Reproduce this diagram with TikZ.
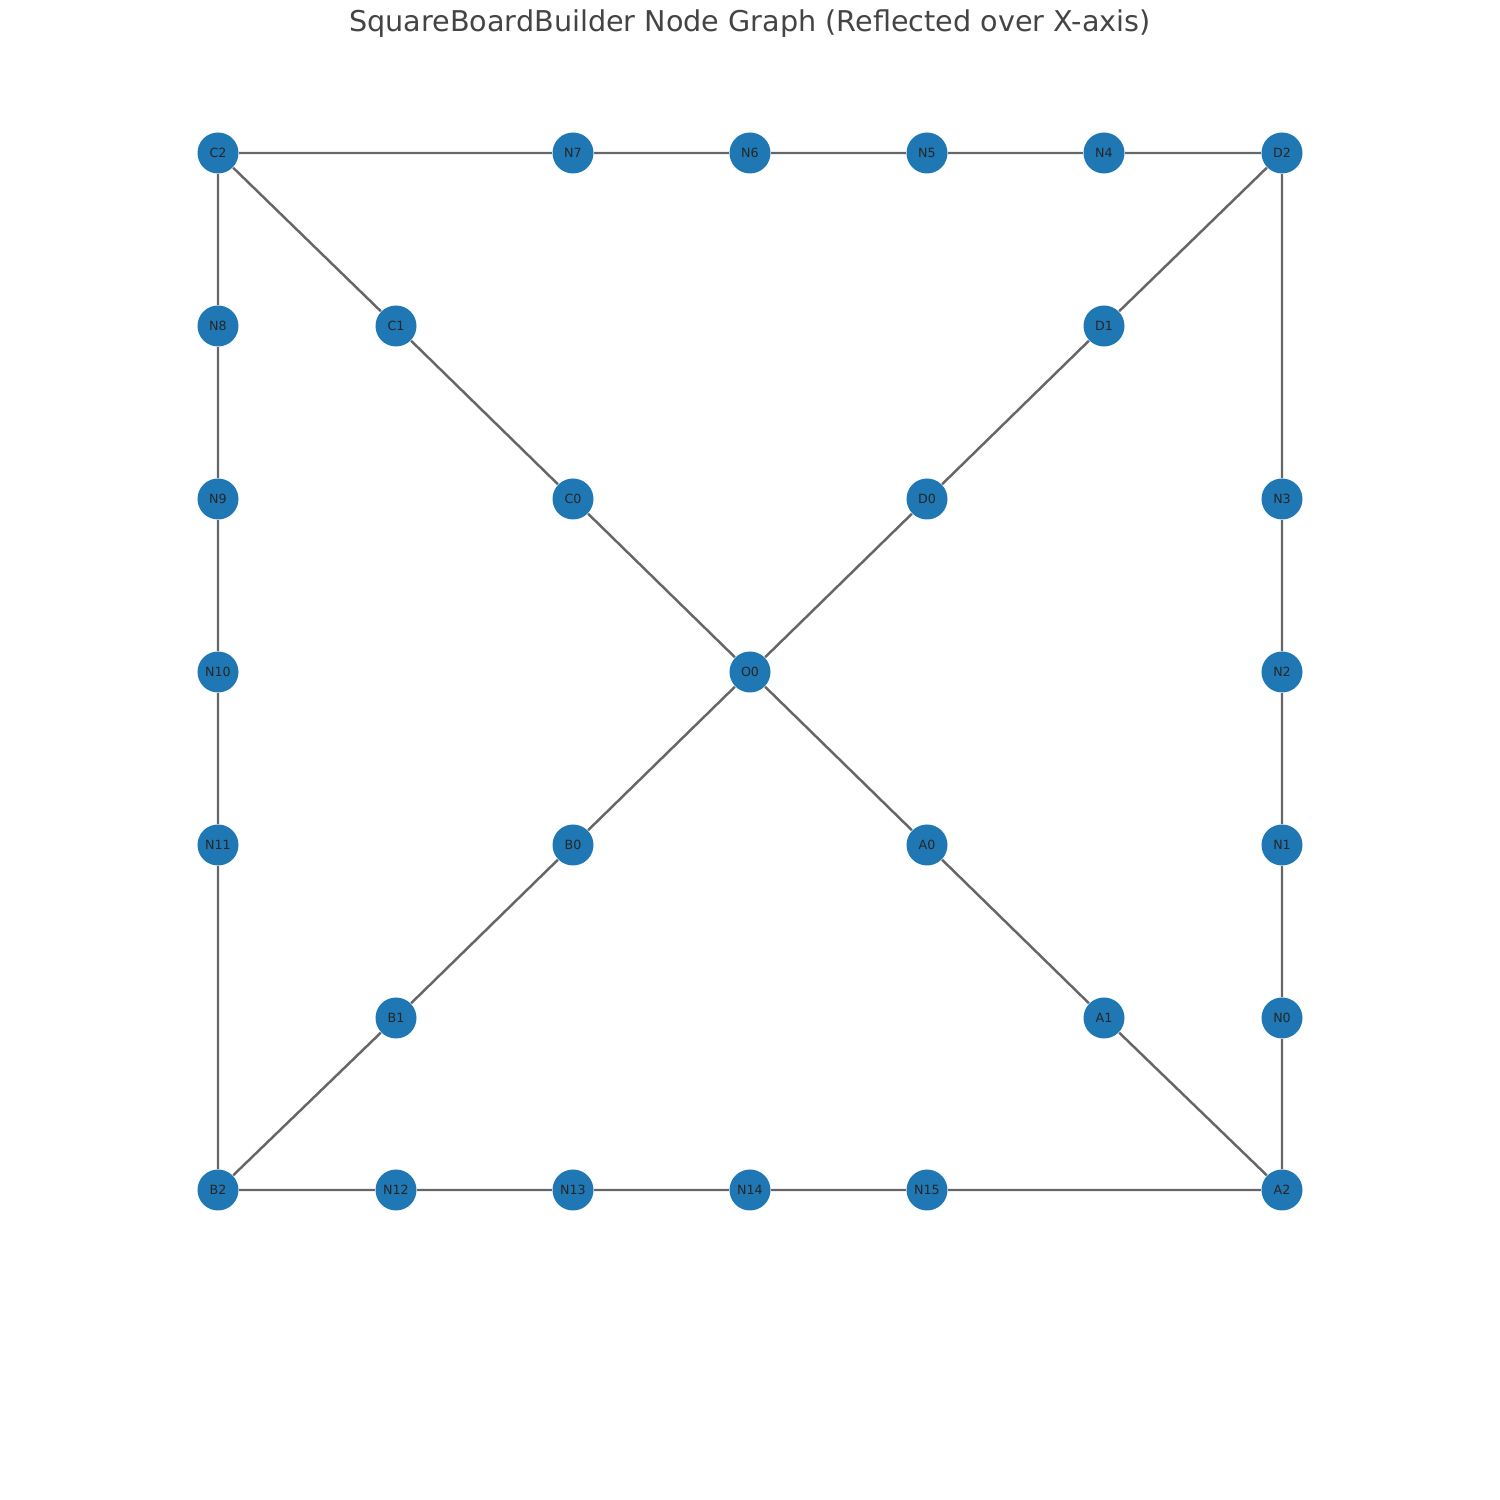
\documentclass[tikz,border=0pt]{standalone}
\usepackage{fontspec}
\setmainfont{DejaVu Sans}
\definecolor{nodeblue}{HTML}{1F77B4}
\definecolor{edgegray}{HTML}{666666}
\definecolor{titlegray}{HTML}{444444}
\tikzset{
  vert/.style={circle,fill=nodeblue,minimum size=0.41cm,inner sep=0pt,font=\fontsize{3.6pt}{4pt}\selectfont,text=black!85},
  edge/.style={draw=edgegray,line width=0.7pt}
}
\begin{document}
\begin{tikzpicture}[x=1cm,y=1cm]
\useasboundingbox (0,0) rectangle (15,15);
\node[font=\fontsize{8.15pt}{10pt}\selectfont,text=titlegray] (title) at (7.5,14.76) {SquareBoardBuilder Node Graph (Reflected over X-axis)};
\path
 (2.18,13.47) node[vert] (C2) {C2}
 (5.73,13.47) node[vert] (N7) {N7}
 (7.50,13.47) node[vert] (N6) {N6}
 (9.27,13.47) node[vert] (N5) {N5}
 (11.04,13.47) node[vert] (N4) {N4}
 (12.82,13.47) node[vert] (D2) {D2}
 (2.18,11.74) node[vert] (N8) {N8}
 (3.96,11.74) node[vert] (C1) {C1}
 (11.04,11.74) node[vert] (D1) {D1}
 (2.18,10.01) node[vert] (N9) {N9}
 (5.73,10.01) node[vert] (C0) {C0}
 (9.27,10.01) node[vert] (D0) {D0}
 (12.82,10.01) node[vert] (N3) {N3}
 (2.18,8.28) node[vert] (N10) {N10}
 (7.50,8.28) node[vert] (O0) {O0}
 (12.82,8.28) node[vert] (N2) {N2}
 (2.18,6.55) node[vert] (N11) {N11}
 (5.73,6.55) node[vert] (B0) {B0}
 (9.27,6.55) node[vert] (A0) {A0}
 (12.82,6.55) node[vert] (N1) {N1}
 (3.96,4.82) node[vert] (B1) {B1}
 (11.04,4.82) node[vert] (A1) {A1}
 (12.82,4.82) node[vert] (N0) {N0}
 (2.18,3.10) node[vert] (B2) {B2}
 (3.96,3.10) node[vert] (N12) {N12}
 (5.73,3.10) node[vert] (N13) {N13}
 (7.50,3.10) node[vert] (N14) {N14}
 (9.27,3.10) node[vert] (N15) {N15}
 (12.82,3.10) node[vert] (A2) {A2};
\path[edge]
 (C2)--(N7) (N7)--(N6) (N6)--(N5) (N5)--(N4) (N4)--(D2)
 (C2)--(N8) (N8)--(N9) (N9)--(N10) (N10)--(N11) (N11)--(B2)
 (D2)--(N3) (N3)--(N2) (N2)--(N1) (N1)--(N0) (N0)--(A2)
 (B2)--(N12) (N12)--(N13) (N13)--(N14) (N14)--(N15) (N15)--(A2)
 (C2)--(C1) (C1)--(C0) (C0)--(O0) (O0)--(A0) (A0)--(A1) (A1)--(A2)
 (D2)--(D1) (D1)--(D0) (D0)--(O0) (O0)--(B0) (B0)--(B1) (B1)--(B2);
\end{tikzpicture}
\end{document}
